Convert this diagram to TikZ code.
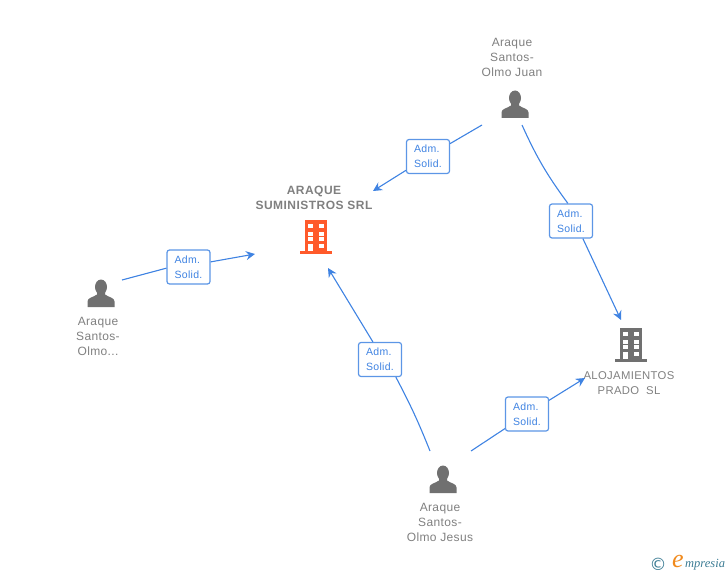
\documentclass[tikz,border=0pt]{standalone}
\usepackage{fontspec}
\setmainfont{Liberation Sans}[LetterSpace=3]
\newfontfamily\logofont{Liberation Serif}
\newfontfamily\copyfont{DejaVu Sans}
\newfontfamily\boldlabelfont{Liberation Sans}[LetterSpace=4]
\usetikzlibrary{arrows.meta}
\definecolor{linkblue}{HTML}{3F83E2}
\definecolor{labelgray}{HTML}{808080}
\definecolor{icongray}{HTML}{707070}
\definecolor{mainorange}{HTML}{FF5A2B}
\definecolor{logoteal}{HTML}{3C7C94}
\definecolor{logoorange}{HTML}{F08A1D}
\tikzset{
	link/.style = {linkblue, line width = 1.1pt},
	linktip/.style = {link, -{Stealth[length = 9pt, width = 9pt, inset = 3pt]}},
	badge/.style = {draw = linkblue!85!white, fill = white, line width = 1.2pt, rounded corners = 2.5pt, minimum width = 43pt, minimum height = 34pt, inner sep = 0pt, align = left, text = linkblue, font = \fontsize{10.5}{15}\selectfont},
	namelabel/.style = {align = center, text = labelgray, font = \fontsize{12}{15}\selectfont},
	iconspot/.style = {minimum width = 28pt, minimum height = 28pt, inner sep = 0pt},
	pics/personicon/.style = {code = {
		\fill[#1] (0, -7) ellipse (6 and 7.5);
		\fill[#1] (-13.5, 13) -- (-13.5, 7.5) .. controls (-13.5, 3.5) and (-8, 3.5) .. (-4, 0.5) -- (-4, -3) -- (4, -3) -- (4, 0.5) .. controls (8, 3.5) and (13.5, 3.5) .. (13.5, 7.5) -- (13.5, 13) -- cycle;
	}},
	pics/buildingicon/.style = {code = {
		\fill[#1] (-11, -17) rectangle (11, 14);
		\fill[#1] (-16, 14) rectangle (16, 17);
		\foreach \wx in {-8, 2.5} {
			\fill[white] (\wx, -12.7) rectangle ++(5, 4);
			\fill[white] (\wx, -5.3) rectangle ++(5, 4);
			\fill[white] (\wx, 0.3) rectangle ++(5, 4);
		}
		\fill[white] (-8, 7) rectangle ++(5, 7);
		\fill[white] (2.5, 7) rectangle ++(5, 3.7);
	}}
}
\begin{document}
\begin{tikzpicture}[x = 1pt, y = -1pt]
	\useasboundingbox (0, 0) rectangle (728, 575);
	
	\node[iconspot] (juan) at (515, 105) {};
	\node[iconspot] (jesus) at (443, 480) {};
	\node[iconspot] (olmo) at (101, 294) {};
	\node[iconspot] (araque) at (316, 237) {};
	\node[iconspot] (prado) at (631, 345) {};
	
	\pic at (juan) {personicon = icongray};
	\pic at (jesus) {personicon = icongray};
	\pic at (olmo) {personicon = icongray};
	\pic at (araque) {buildingicon = mainorange};
	\pic at (prado) {buildingicon = icongray};
	
	\node[namelabel] (juanname) at (512, 57) {Araque\\Santos-\\Olmo Juan};
	\node[namelabel] (jesusname) at (440, 522) {Araque\\Santos-\\Olmo Jesus};
	\node[namelabel] (olmoname) at (98, 336) {Araque\\Santos-\\Olmo...};
	\node[namelabel, font = \boldlabelfont\fontsize{12}{14.5}\selectfont\bfseries] (araquename) at (314, 198) {ARAQUE\\SUMINISTROS SRL};
	\node[namelabel, font = \fontsize{11.3}{14.5}\selectfont] (pradoname) at (629, 383) {ALOJAMIENTOS\\PRADO\ \ SL};
	
	\coordinate (juanleft) at (482, 125);
	\coordinate (juanright) at (522, 125);
	\coordinate (jesusleft) at (430, 451);
	\coordinate (jesusright) at (471, 451);
	\coordinate (olmoright) at (122, 280);
	\coordinate (araquetop) at (373, 191);
	\coordinate (araquebottom) at (328, 268);
	\coordinate (araqueleft) at (255, 254);
	\coordinate (pradotop) at (621, 320);
	\coordinate (pradoleft) at (585, 378);
	
	\node[badge] (juanaraque) at (428, 156.5) {Adm.\\Solid.};
	\node[badge] (juanprado) at (571, 221) {Adm.\\Solid.};
	\node[badge] (olmoaraque) at (188.5, 267) {Adm.\\Solid.};
	\node[badge] (jesusaraque) at (380, 359.5) {Adm.\\Solid.};
	\node[badge] (jesusprado) at (527, 414) {Adm.\\Solid.};
	
	\draw[link] (juanleft) -- (juanaraque);
	\draw[linktip] (juanaraque) -- (araquetop);
	
	\draw[link] (juanright) to[bend right = 6] (juanprado.100);
	\draw[linktip] (juanprado.-56) -- (pradotop);
	
	\draw[link] (olmoright) -- (olmoaraque.183);
	\draw[linktip] (olmoaraque.13) -- (araqueleft);
	
	\draw[link] (jesusleft) to[bend right = 3] (jesusaraque.-48);
	\draw[linktip] (jesusaraque.112) -- (araquebottom);
	
	\draw[link] (jesusright) -- (jesusprado);
	\draw[linktip] (jesusprado) -- (pradoleft);
	
	\node[text = logoteal, font = \copyfont\fontsize{17}{17}\selectfont] (copymark) at (658, 564) {©};
	\node[text = logoorange, font = \logofont\itshape\fontsize{26}{26}\selectfont] (logoe) at (678, 561) {e};
	\node[anchor = west, inner sep = 0pt, text = logoteal, font = \logofont\itshape\fontsize{12.5}{12.5}\selectfont] (logoname) at (685, 565) {mpresia};
\end{tikzpicture}
\end{document}
